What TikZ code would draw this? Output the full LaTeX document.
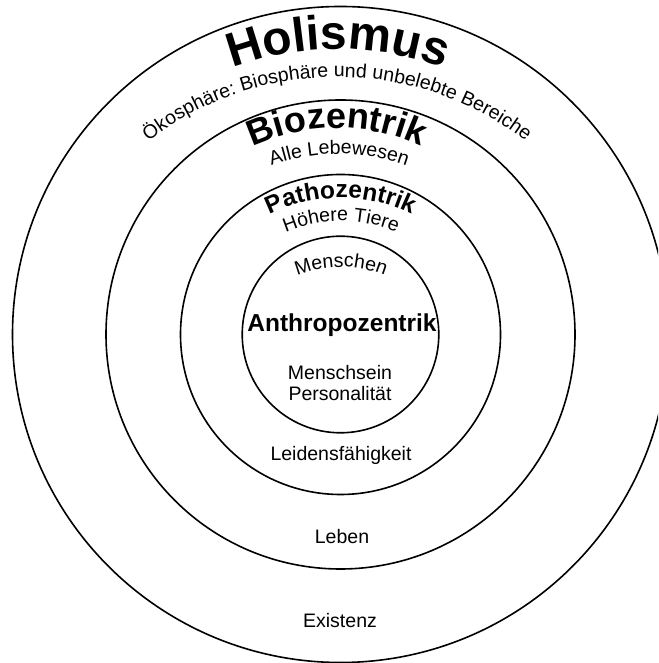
\documentclass[tikz,border=0pt]{standalone}
\usepackage{fontspec}
\setmainfont{Liberation Sans}
\usetikzlibrary{decorations.text}

\newcommand\normtext{\fontsize{19.5}{21.5}\selectfont}
\newcommand\midhead{\bfseries\fontsize{24.5}{26}\selectfont}

\tikzset{ring/.style={line width=1.6pt},
  label/.style={font=\normtext,align=center,inner sep=0pt},
  heading/.style={font=\midhead,inner sep=0pt},
  arctext/.style={decorate,decoration={text along path,text align=center,text={#1}}}}

\begin{document}
\begin{tikzpicture}[x=1pt,y=1pt]
\clip (0,0) rectangle (658,663);
\coordinate (m) at (340.5,328.5);
\foreach \r in {98.3,160,234.5,328}{\draw[ring] (m) circle[radius=\r];}
% straight texts
\node[heading] (anthro) at (342,338) {Anthropozentrik};
\node[label] (mensch) at (340,280) {Menschsein\\Personalität};
\node[label] (leid) at (341,208) {Leidensfähigkeit};
\node[label] (leben) at (342,126) {Leben};
\node[label] (exist) at (340,42) {Existenz};
% texts on arcs
\path[arctext={|\normtext|Menschen}] (341,279) ++(140:117) arc[start angle=140,end angle=40,radius=117];
\path[arctext={|\normtext|Höhere Tiere}] (341,299) ++(140:143) arc[start angle=140,end angle=40,radius=143];
\path[arctext={|\midhead|Pathozentrik}] (341,305) ++(140:160) arc[start angle=140,end angle=40,radius=160];
\path[arctext={|\normtext|Alle Lebewesen}] (339,309) ++(135:200) arc[start angle=135,end angle=45,radius=200];
\path[arctext={|\bfseries\fontsize{36}{38}\selectfont|Biozentrik}] (337,335) ++(135:200) arc[start angle=135,end angle=45,radius=200];
\path[arctext={|\normtext|Ökosphäre: Biosphäre und unbelebte Bereiche}] (337,277) ++(135:309) arc[start angle=135,end angle=45,radius=309];
\path[arctext={|\bfseries\fontsize{48}{50}\selectfont|Holismus}] (338,314) ++(125:300) arc[start angle=125,end angle=55,radius=300];
\end{tikzpicture}
\end{document}
